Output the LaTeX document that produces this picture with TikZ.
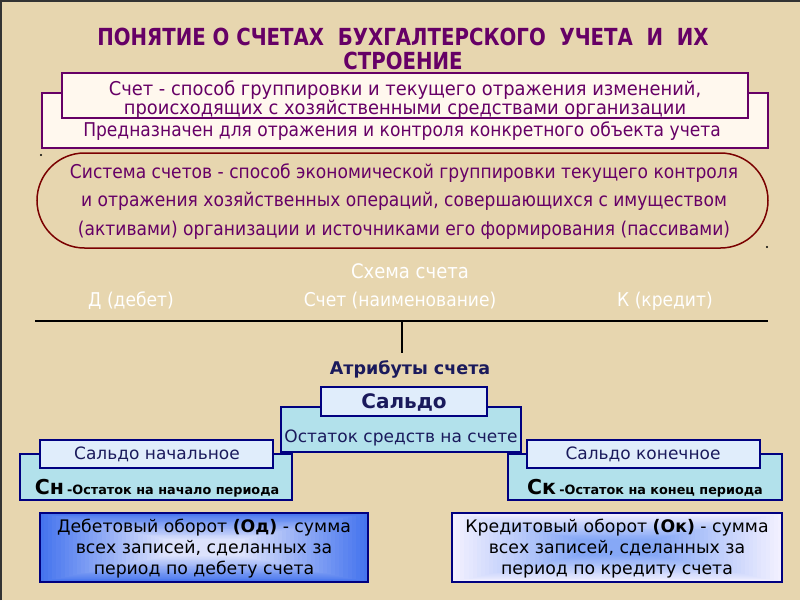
\documentclass[tikz,border=0pt]{standalone}
\usepackage{fontspec}
\setmainfont{DejaVu Sans}
\newfontfamily\cond{DejaVu Sans}[FakeStretch=0.90]
\newfontfamily\condA{DejaVu Sans}[FakeStretch=0.94]
\newfontfamily\tcond{DejaVu Sans}[FakeStretch=0.84]
\usetikzlibrary{shapes.misc}
\definecolor{bg}{HTML}{E7D6AF}
\definecolor{purp}{HTML}{660066}
\definecolor{cream}{HTML}{FFF8EE}
\definecolor{maroonc}{HTML}{7A0000}
\definecolor{navyc}{HTML}{000080}
\definecolor{navytext}{HTML}{1A1A5C}
\definecolor{lblue}{HTML}{E0EDFB}
\definecolor{cyanbox}{HTML}{B2E1EB}
\definecolor{gA}{HTML}{4574EE}
\definecolor{gB}{HTML}{DCE2FC}
\definecolor{gC}{HTML}{F2F0FF}
\definecolor{gD}{HTML}{86A8F6}
\newcommand{\rectgrad}[6]{%
  \foreach \i in {0,...,39}{%
    \pgfmathsetmacro\tt{\i/40}%
    \pgfmathtruncatemacro\pp{min(100,100*\i/30)}%
    \fill[#6!\pp!#5] ({#1+\tt*(#3-#1)/2},{#2+\tt*(#4-#2)/2}) rectangle ({#3-\tt*(#3-#1)/2},{#4-\tt*(#4-#2)/2});
  }}
\tikzset{
  pbox/.style={draw=purp, line width=2pt, fill=cream, inner sep=0pt},
  ptext/.style={text=purp, font=\cond\fontsize{19}{19}\selectfont, align=center, inner sep=0pt},
  stext/.style={text=white, font=\cond\fontsize{19}{20}\selectfont, inner sep=0pt},
  lblbox/.style={draw=navyc, line width=2pt, fill=lblue, inner sep=0pt},
  cybox/.style={draw=navyc, line width=2pt, fill=cyanbox, inner sep=0pt},
  gbox/.style={draw=navyc, line width=2pt, inner sep=0pt},
  ntext/.style={text=navytext, inner sep=0pt},
  btext/.style={text=black, font=\fontsize{17.3}{21}\selectfont, align=center, inner sep=0pt}
}
\begin{document}
\begin{tikzpicture}[x=1pt,y=-1pt]
\fill[bg] (0,0) rectangle (800,600);
\useasboundingbox (0,0) rectangle (800,600);
\draw[black!80, line width=1.5pt] (0.75,600) -- (0.75,0.75) -- (800,0.75);

% title
\node[text=purp, font=\tcond\bfseries\fontsize{23.5}{24}\selectfont, align=center, inner sep=0pt] (title) at (403,49)
  {ПОНЯТИЕ О СЧЕТАХ\ \ БУХГАЛТЕРСКОГО\ \ УЧЕТА\ \ И\ \ ИХ\\СТРОЕНИЕ};

% definition boxes
\node[pbox, minimum width=726, minimum height=55] (def2) at (405,120.5) {};
\node[pbox, minimum width=686, minimum height=45] (def1) at (405,95.5) {};
\node[ptext, font=\condA\fontsize{19}{19}\selectfont] (def1t) at (405,99.5) {Счет - способ группировки и текущего отражения изменений,\\происходящих с хозяйственными средствами организации};
\node[ptext] (def2t) at (402,131.5) {Предназначен для отражения и контроля конкретного объекта учета};

% system of accounts
\node[draw=maroonc, line width=1.5pt, rounded rectangle, minimum width=731, minimum height=95, inner sep=0pt] (sys) at (402.5,200.5) {};
\node[ptext, font=\cond\fontsize{19}{28.5}\selectfont] (syst) at (404,201.5) {Система счетов - способ экономической группировки текущего контроля\\и отражения хозяйственных операций, совершающихся с имуществом\\(активами) организации и источниками его формирования (пассивами)};
\fill[black] (41,155) circle (1.2);
\fill[black] (767,247) circle (1.2);

% schema
\node[stext, font=\cond\fontsize{20}{20}\selectfont] (sch) at (410,271) {Схема счета};
\node[stext] (deb) at (131,301) {Д (дебет)};
\node[stext] (acc) at (400,301) {Счет (наименование)};
\node[stext] (cred) at (665,301) {К (кредит)};
\coordinate (tl) at (35,321);
\coordinate (tr) at (768,321);
\coordinate (tm) at (402,321);
\coordinate (tb) at (402,353);
\draw[black, line width=2pt] (tl) -- (tr);
\draw[black, line width=2pt] (tm) -- (tb);

\node[ntext, font=\bfseries\fontsize{17.5}{18}\selectfont] (attr) at (410,369) {Атрибуты счета};

% saldo
\node[cybox, minimum width=240, minimum height=45] (sal) at (401,429.5) {};
\node[lblbox, minimum width=166, minimum height=29] (salh) at (404,401.5) {};
\node[ntext, font=\bfseries\fontsize{20}{20}\selectfont] (salht) at (404,402) {Сальдо};
\node[ntext, font=\fontsize{17}{18}\selectfont] (salt) at (401,438) {Остаток средств на счете};

% left
\node[cybox, minimum width=272, minimum height=46] (sn) at (156,477) {};
\node[lblbox, minimum width=233, minimum height=28] (snh) at (156.5,454) {};
\node[ntext, font=\fontsize{17}{18}\selectfont] (snht) at (157,454) {Сальдо начальное};
\node[text=black, inner sep=0pt, anchor=base] (snt) at (157,494) {{\bfseries\fontsize{20.5}{20}\selectfont Сн} {\bfseries\fontsize{12.8}{14}\selectfont -Остаток на начало периода}};

% right
\node[cybox, minimum width=274, minimum height=46] (sk) at (645,477) {};
\node[lblbox, minimum width=233, minimum height=28] (skh) at (643.5,454) {};
\node[ntext, font=\fontsize{17}{18}\selectfont] (skht) at (643,454) {Сальдо конечное};
\node[text=black, inner sep=0pt, anchor=base] (skt) at (645,494) {{\bfseries\fontsize{20.5}{20}\selectfont Ск} {\bfseries\fontsize{12.8}{14}\selectfont -Остаток на конец периода}};

% turnover boxes
\rectgrad{40}{513}{368}{582}{gA}{gB}
\node[gbox, minimum width=328, minimum height=69] (od) at (204,547.5) {};
\node[btext] (odt) at (204,549) {Дебетовый оборот \textbf{(Од)} - сумма\\всех записей, сделанных за\\период по дебету счета};
\rectgrad{452}{513}{782}{582}{gC}{gD}
\node[gbox, minimum width=330, minimum height=69] (ok) at (617,547.5) {};
\node[btext] (okt) at (617,549) {Кредитовый оборот \textbf{(Ок)} - сумма\\всех записей, сделанных за\\период по кредиту счета};
\end{tikzpicture}
\end{document}
